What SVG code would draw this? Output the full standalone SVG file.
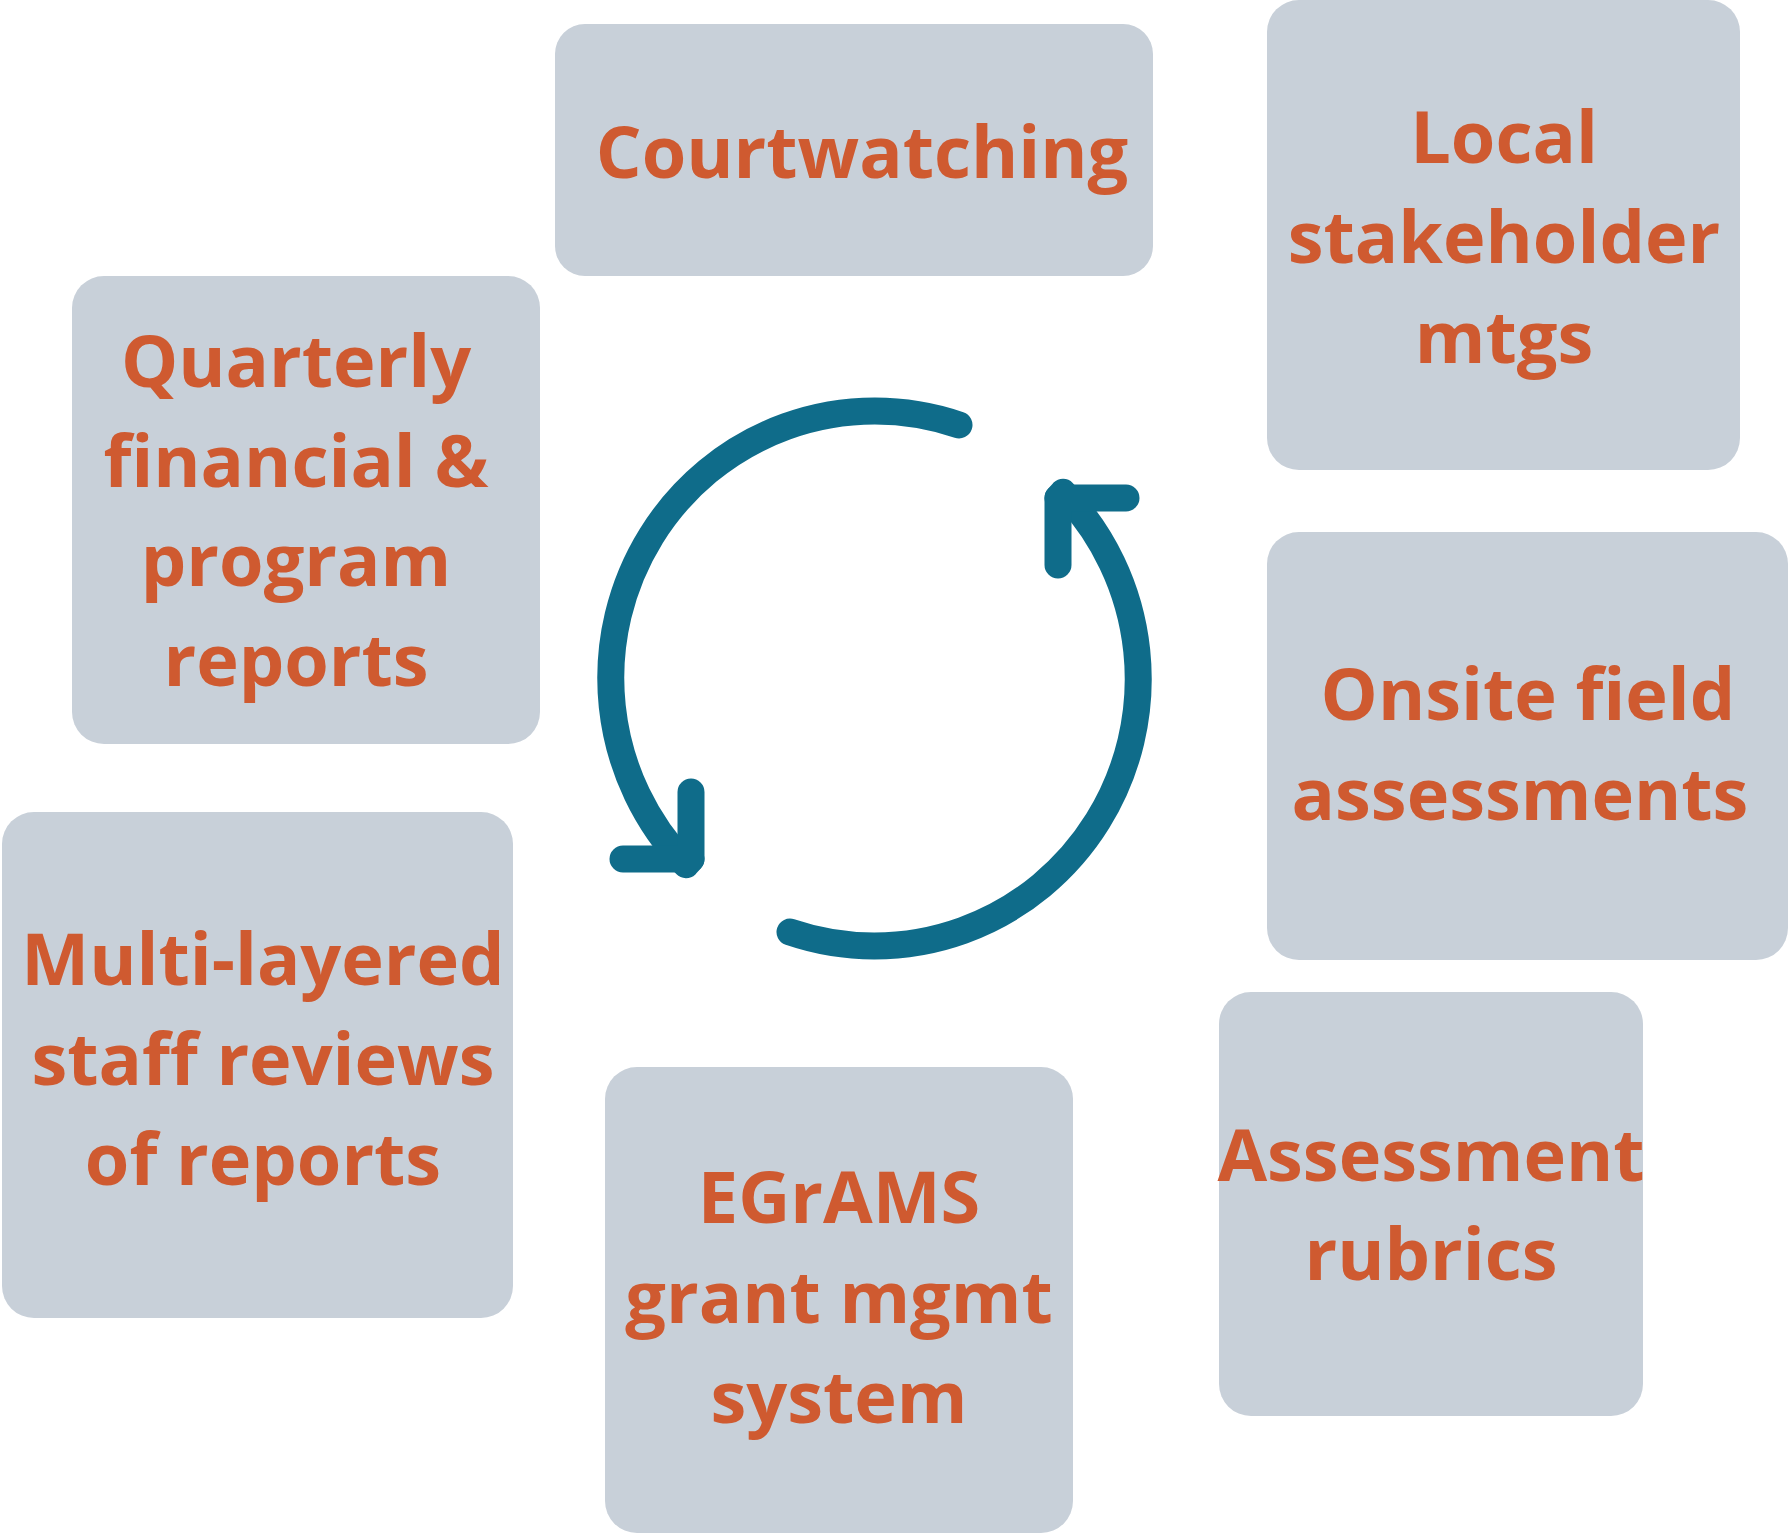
<svg xmlns="http://www.w3.org/2000/svg" width="1790" height="1533" viewBox="0 0 1790 1533">
<style>
.box{fill:#C8D0D9;}
.lbl{font-family:"Open Sans","Noto Sans","Liberation Sans",sans-serif;font-weight:700;font-size:72px;fill:#CF5A30;text-anchor:middle;}
.arc{fill:none;stroke:#0F6C8A;stroke-width:27;stroke-linecap:round;stroke-linejoin:round;}
</style>
<rect width="1790" height="1533" fill="#FFFFFF"/>
<g id="courtwatching">
<rect class="box" x="555" y="24" width="598" height="252" rx="30"/>
<text class="lbl" x="862" y="178">Courtwatching</text>
</g>
<g id="local-stakeholder">
<rect class="box" x="1267" y="0" width="473" height="470" rx="32"/>
<text class="lbl" x="1504" y="163">Local</text>
<text class="lbl" x="1504" y="263">stakeholder</text>
<text class="lbl" x="1504" y="363">mtgs</text>
</g>
<g id="quarterly">
<rect class="box" x="72" y="276" width="468" height="468" rx="32"/>
<text class="lbl" x="296" y="387">Quarterly</text>
<text class="lbl" x="296" y="487">financial &amp;</text>
<text class="lbl" x="296" y="586">program</text>
<text class="lbl" x="296" y="686">reports</text>
</g>
<g id="onsite">
<rect class="box" x="1267" y="532" width="521" height="428" rx="32"/>
<text class="lbl" x="1528" y="720">Onsite field</text>
<text class="lbl" x="1520" y="820">assessments</text>
</g>
<g id="multi-layered">
<rect class="box" x="2" y="812" width="511" height="506" rx="32"/>
<text class="lbl" x="263" y="985">Multi-layered</text>
<text class="lbl" x="263" y="1085">staff reviews</text>
<text class="lbl" x="263" y="1185">of reports</text>
</g>
<g id="egrams">
<rect class="box" x="605" y="1067" width="468" height="466" rx="32"/>
<text class="lbl" x="839" y="1223">EGrAMS</text>
<text class="lbl" x="839" y="1323">grant mgmt</text>
<text class="lbl" x="839" y="1423">system</text>
</g>
<g id="assessment-rubrics">
<rect class="box" x="1219" y="992" width="424" height="424" rx="32"/>
<text class="lbl" x="1431" y="1181">Assessment</text>
<text class="lbl" x="1431" y="1280">rubrics</text>
</g>
<g id="connectors">
<path class="arc" d="M 959 425 A 264 267 0 0 0 686 864.7 L 691 859"/>
<path class="arc" d="M 691 792 L 691 859 L 623 859"/>
<path class="arc" d="M 790 932 A 264 267 0 0 0 1063 492.3 L 1058 498"/>
<path class="arc" d="M 1058 565 L 1058 498 L 1126 498"/>
</g>
</svg>
